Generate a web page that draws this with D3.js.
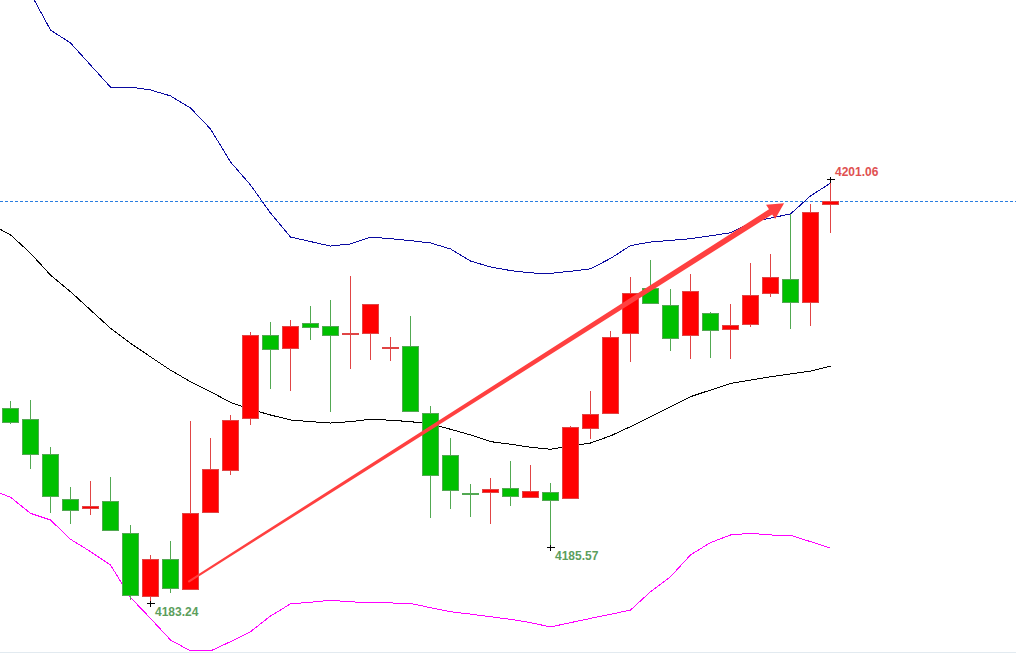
<!DOCTYPE html>
<html>
<head>
<meta charset="utf-8">
<script src="https://cdn.jsdelivr.net/npm/d3@7"></script>
<style>
html, body { margin: 0; padding: 0; background: #fff; }
svg { display: block; }
</style>
</head>
<body>
<div id="chart"></div>
<script>
// candles, one per bar, left to right
const opens  = [4191.42,4190.96,4189.49,4187.60,4187.21,4187.52,4186.16,4183.49,4185.07,4183.80,
                4187.04,4188.81,4191.00,4194.49,4193.95,4195.00,4194.87,4194.53,4194.58,4193.94,
                4194.03,4191.21,4189.44,4187.84,4187.89,4188.05,4187.68,4187.89,4187.63,4190.58,
                4191.21,4194.58,4196.47,4195.76,4194.49,4195.42,4194.75,4194.96,4196.26,4196.86,
                4195.88,4200.01];
const highs  = [4191.73,4191.77,4189.79,4188.11,4188.37,4188.53,4186.51,4185.25,4185.84,4190.89,
                4190.17,4191.15,4194.63,4195.05,4195.14,4195.73,4195.98,4196.99,4195.81,4194.42,
                4195.31,4191.52,4190.16,4188.22,4188.48,4189.20,4189.04,4188.27,4190.69,4192.15,
                4194.68,4196.95,4197.66,4196.44,4197.07,4195.47,4195.81,4197.54,4197.92,4199.60,
                4200.01,4201.06];
const lows   = [4190.77,4188.88,4187.03,4186.56,4186.93,4186.29,4183.35,4183.24,4183.66,4183.80,
                4187.04,4188.63,4190.73,4192.25,4192.16,4194.30,4191.28,4193.06,4193.47,4193.43,
                4191.30,4186.82,4187.20,4186.86,4186.56,4187.32,4187.68,4185.57,4187.63,4190.14,
                4191.21,4193.38,4195.84,4193.85,4193.51,4193.55,4193.51,4194.86,4196.12,4194.77,
                4194.90,4198.79];
const closes = [4190.83,4189.49,4187.72,4187.13,4187.30,4186.29,4183.55,4185.07,4183.83,4187.00,
                4188.85,4190.92,4194.49,4193.90,4194.87,4194.83,4194.49,4194.57,4195.77,4194.00,
                4191.30,4188.60,4187.98,4187.79,4188.01,4187.70,4187.93,4187.55,4190.62,4191.17,
                4194.41,4196.26,4195.84,4194.37,4196.35,4194.70,4194.92,4196.18,4196.94,4195.88,
                4199.67,4200.12];

// bollinger bands, these start one bar before the first visible candle
const bandStart = -1;
const upperBand  = [4210.36,4209.76,4208.90,4207.34,4206.80,4205.87,4204.94,4204.94,4204.82,4204.57,
                    4204.06,4203.18,4201.79,4200.82,4199.64,4198.63,4198.44,4198.25,4198.34,4198.63,
                    4198.56,4198.48,4198.38,4198.13,4197.62,4197.37,4197.22,4197.12,4197.10,4197.19,
                    4197.29,4197.73,4198.27,4198.42,4198.49,4198.56,4198.68,4198.81,4199.23,4199.43,
                    4199.60,4200.36,4200.90];
const middleBand = [4199.18,4198.72,4197.95,4197.03,4196.33,4195.56,4194.79,4194.16,4193.59,4193.03,
                    4192.54,4192.12,4191.67,4191.38,4191.14,4190.93,4190.86,4190.80,4190.86,4190.96,
                    4190.92,4190.86,4190.76,4190.54,4190.30,4190.02,4189.91,4189.78,4189.70,4189.84,
                    4189.96,4190.26,4190.65,4191.07,4191.49,4191.91,4192.19,4192.47,4192.61,4192.75,
                    4192.87,4192.99,4193.20];
const lowerBand  = [4188.00,4187.68,4187.00,4186.72,4185.91,4185.39,4184.83,4183.46,4182.58,4181.67,
                    4181.21,4181.21,4181.60,4182.02,4182.68,4183.19,4183.26,4183.34,4183.28,4183.23,
                    4183.23,4183.21,4183.03,4182.86,4182.76,4182.65,4182.54,4182.40,4182.22,4182.40,
                    4182.58,4182.75,4182.93,4183.70,4184.33,4185.25,4185.77,4186.09,4186.16,4186.09,
                    4186.08,4185.81,4185.53];

// marked extremes [bar index, price, which end]
const extremes = [[7, 4183.24, 'low'], [27, 4185.57, 'low'], [41, 4201.06, 'high']];

// trend arrow, [bar index, price]
const arrowFrom = [8.89, 4184.12];
const arrowTo   = [38.68, 4200.05];

const width = 1016, height = 656;

const x = d3.scaleLinear().domain([0, 41]).range([10.5, 830.5]);
const y = d3.scaleLinear().domain([4183.24, 4201.06]).range([602.7, 179.3]);

const upCol = { fill: '#ff0000', line: '#e04545' },
      downCol = { fill: '#00c000', line: '#52a852' };

const svg = d3.select('#chart')
    .append('svg')
    .attr('width', width)
    .attr('height', height);

// bottom frame line
svg.append('line')
    .attr('x1', 0).attr('x2', width)
    .attr('y1', 652.5).attr('y2', 652.5)
    .style('stroke', '#e2eaf0')
    .style('stroke-width', 1);

// bands
const bandLine = d3.line()
    .x((d, i) => x(i + bandStart))
    .y(d => y(d));

[[upperBand, '#0a0aa0'], [middleBand, '#000000'], [lowerBand, '#ff00ff']].forEach(b => {
    svg.append('path')
        .datum(b[0])
        .attr('d', bandLine)
        .style('fill', 'none')
        .style('stroke', b[1])
        .style('stroke-width', 1)
        .style('shape-rendering', 'crispEdges');
});

// current price line
const lastY = Math.floor(y(closes[closes.length - 1])) + 0.5;
svg.append('line')
    .attr('x1', 0).attr('x2', width)
    .attr('y1', lastY).attr('y2', lastY)
    .style('stroke', '#2a7de0')
    .style('stroke-width', 1)
    .style('stroke-dasharray', '3,2')
    .style('shape-rendering', 'crispEdges');

// candles
const candles = opens.map((o, i) => ({ i: i, o: o, h: highs[i], l: lows[i], c: closes[i] }));

const candleG = svg.append('g').classed('candles', true);

candleG.selectAll('line.wick')
    .data(candles)
    .enter()
    .append('line')
    .attr('class', 'wick')
    .attr('x1', d => x(d.i)).attr('x2', d => x(d.i))
    .attr('y1', d => y(d.h)).attr('y2', d => y(d.l))
    .style('stroke', d => d.c >= d.o ? upCol.line : downCol.line)
    .style('stroke-width', 1)
    .style('shape-rendering', 'crispEdges');

candleG.selectAll('rect.body')
    .data(candles)
    .enter()
    .append('rect')
    .attr('class', 'body')
    .attr('x', d => x(d.i) - 8)
    .attr('width', 16)
    .attr('y', d => y(Math.max(d.o, d.c)))
    .attr('height', d => Math.max(1, y(Math.min(d.o, d.c)) - y(Math.max(d.o, d.c))))
    .style('fill', d => d.c >= d.o ? upCol.fill : downCol.fill)
    .style('stroke', d => d.c >= d.o ? upCol.line : downCol.line)
    .style('stroke-width', 1)
    .style('shape-rendering', 'crispEdges');

// the arrow, thin at the tail and thicker toward the head
const p0 = [x(arrowFrom[0]), y(arrowFrom[1])],
      p1 = [x(arrowTo[0]), y(arrowTo[1])],
      len = Math.hypot(p1[0] - p0[0], p1[1] - p0[1]),
      u = [(p1[0] - p0[0]) / len, (p1[1] - p0[1]) / len],
      n = [-u[1], u[0]],
      headLen = 16, headHalf = 8.5, tailW = 2, shaftW = 6,
      b = [p1[0] - u[0] * headLen, p1[1] - u[1] * headLen];
const pt = (p, k) => [p[0] + n[0] * k, p[1] + n[1] * k];
const arrowPts = [pt(p0, tailW / 2), pt(b, shaftW / 2), pt(b, headHalf), p1,
                  pt(b, -headHalf), pt(b, -shaftW / 2), pt(p0, -tailW / 2)];
svg.append('path')
    .attr('d', 'M' + arrowPts.map(p => p.join(',')).join('L') + 'Z')
    .style('fill', '#ff4040')
    .style('stroke', 'none');

// extremes: small cross plus price
const marks = svg.append('g').classed('marks', true);
extremes.forEach(e => {
    const cx = x(e[0]), cy = Math.round(y(e[1])) + 0.5;
    marks.append('line')
        .attr('x1', cx - 3.5).attr('x2', cx + 4)
        .attr('y1', cy).attr('y2', cy)
        .style('stroke', '#000').style('stroke-width', 1)
        .style('shape-rendering', 'crispEdges');
    marks.append('line')
        .attr('x1', cx).attr('x2', cx)
        .attr('y1', cy - 2.5).attr('y2', cy + 3)
        .style('stroke', '#000').style('stroke-width', 1)
        .style('shape-rendering', 'crispEdges');
    marks.append('text')
        .text(e[1].toFixed(2))
        .attr('x', cx + 4.5)
        .attr('y', e[2] === 'low' ? cy + 12.5 : cy - 4)
        .style('font-family', '"Liberation Sans", Arial, sans-serif')
        .style('font-size', '12px')
        .style('font-weight', 'bold')
        .style('fill', e[2] === 'low' ? '#5c9e5c' : '#e05050');
});
</script>
</body>
</html>
